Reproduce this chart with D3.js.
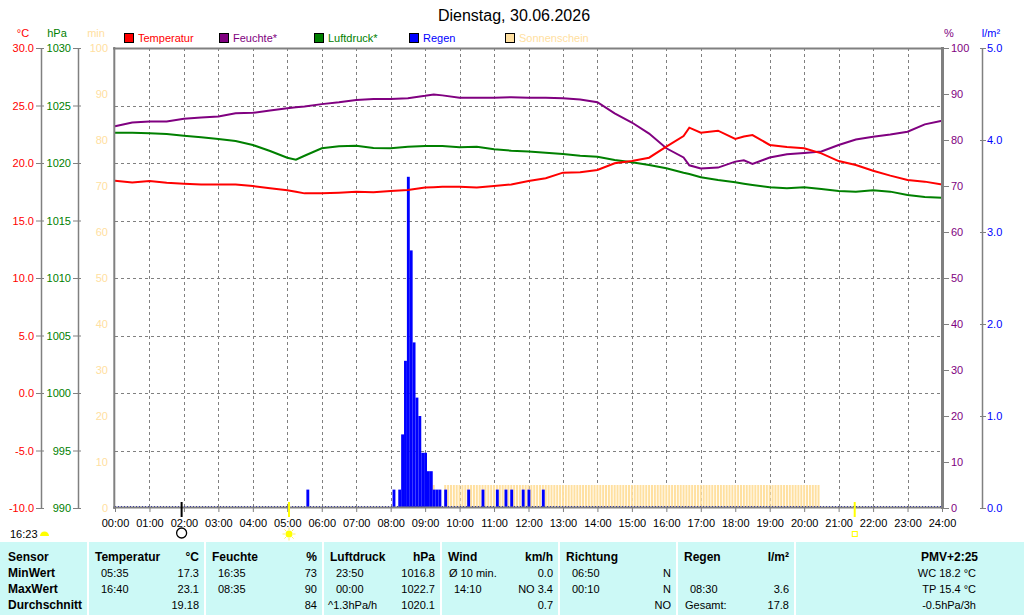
<!DOCTYPE html>
<html>
<head>
<meta charset="utf-8">
<script src="https://d3js.org/d3.v7.min.js"></script>
<style>
    body { margin: 0; background: #fff; }
    svg text { font-family: "Liberation Sans", Arial, sans-serif; }
</style>
</head>
<body>
<script>
// sample times in minutes after midnight
var minutes = [0, 30, 60, 90, 120, 150, 180, 210, 240, 270, 300, 315, 330, 360, 390, 420, 450, 480, 510,
    540, 555, 570, 600, 630, 660, 690, 720, 750, 780, 810, 840, 870, 900, 930, 960, 990, 1000, 1020,
    1050, 1080, 1095, 1110, 1140, 1170, 1200, 1230, 1260, 1290, 1320, 1350, 1380, 1410, 1440];

// temperature in °C
var temperature = [18.46, 18.3, 18.43, 18.29, 18.2, 18.14, 18.14, 18.14, 18.0, 17.8, 17.63, 17.5, 17.36,
    17.36, 17.42, 17.5, 17.45, 17.57, 17.65, 17.86, 17.9, 17.94, 17.94, 17.86, 18.0, 18.14, 18.43, 18.67,
    19.16, 19.2, 19.39, 19.97, 20.17, 20.46, 21.42, 22.35, 23.07, 22.64, 22.81, 22.09, 22.3, 22.43, 21.57,
    21.4, 21.28, 20.84, 20.17, 19.83, 19.33, 18.9, 18.52, 18.38, 18.14];

// relative humidity in %
var humidity = [83.0, 83.8, 84.0, 84.0, 84.6, 84.9, 85.1, 85.8, 85.9, 86.4, 86.9, 87.1, 87.3, 87.8, 88.2,
    88.7, 88.9, 88.9, 89.1, 89.6, 89.9, 89.7, 89.2, 89.2, 89.2, 89.3, 89.2, 89.2, 89.1, 88.8, 88.2, 85.8,
    83.8, 81.4, 78.2, 76.2, 74.5, 73.8, 74.0, 75.3, 75.6, 74.8, 76.2, 76.9, 77.2, 77.5, 78.9, 80.1, 80.7,
    81.2, 81.8, 83.4, 84.2];

// air pressure in hPa
var pressure = [1022.64, 1022.64, 1022.58, 1022.52, 1022.37, 1022.23, 1022.09, 1021.91, 1021.57, 1021.04,
    1020.46, 1020.29, 1020.63, 1021.28, 1021.45, 1021.5, 1021.3, 1021.28, 1021.42, 1021.48, 1021.48,
    1021.48, 1021.36, 1021.42, 1021.19, 1021.07, 1020.99, 1020.9, 1020.78, 1020.64, 1020.55, 1020.26,
    1020.06, 1019.83, 1019.54, 1019.16, 1019.05, 1018.76, 1018.52, 1018.32, 1018.2, 1018.09, 1017.89,
    1017.8, 1017.89, 1017.74, 1017.57, 1017.51, 1017.62, 1017.51, 1017.22, 1017.04, 1016.98];

// rain per 5 minutes in l/m²
var rainTimes = ['05:35', '08:05', '08:15', '08:20', '08:25', '08:30', '08:35', '08:40', '08:45', '08:50',
    '08:55', '09:00', '09:05', '09:10', '09:15', '09:20', '09:25', '09:35', '10:15', '10:40', '11:05',
    '11:20', '11:30', '11:50', '12:00', '12:25'];
var rainValues = [0.2, 0.2, 0.2, 0.8, 1.6, 3.6, 2.8, 1.8, 1.2, 1.0, 0.6, 0.6, 0.4, 0.4, 0.2, 0.2, 0.2,
    0.2, 0.2, 0.2, 0.2, 0.2, 0.2, 0.2, 0.2, 0.2];

// sunshine periods, full 5 minutes of sun per slot
var sunStart = ['09:15', '09:35'];
var sunEnd = ['09:20', '20:30'];
var sunPerSlot = 5;

// sun and moon marks below the time axis
var moonTime = '01:56', sunriseTime = '05:03', sunsetTime = '21:28';

// tick labels
var tempTicks = [30, 25, 20, 15, 10, 5, 0, -5, -10];
var pressTicks = [1030, 1025, 1020, 1015, 1010, 1005, 1000, 995, 990];
var humTicks = [100, 90, 80, 70, 60, 50, 40, 30, 20, 10, 0];
var rainTicks = [5, 4, 3, 2, 1, 0];
var hourLabels = ['00:00', '01:00', '02:00', '03:00', '04:00', '05:00', '06:00', '07:00', '08:00', '09:00',
    '10:00', '11:00', '12:00', '13:00', '14:00', '15:00', '16:00', '17:00', '18:00', '19:00', '20:00',
    '21:00', '22:00', '23:00', '24:00'];

// summary table
var tableHead = [['Sensor', ''], ['Temperatur', '°C'], ['Feuchte', '%'], ['Luftdruck', 'hPa'],
    ['Wind', 'km/h'], ['Richtung', ''], ['Regen', 'l/m²']];
var tableRows = [
    [['MinWert', ''], ['05:35', '17.3'], ['16:35', '73'], ['23:50', '1016.8'], ['Ø 10 min.', '0.0'], ['06:50', 'N'], ['', '']],
    [['MaxWert', ''], ['16:40', '23.1'], ['08:35', '90'], ['00:00', '1022.7'], ['14:10', 'NO 3.4'], ['00:10', 'N'], ['08:30', '3.6']],
    [['Durchschnitt', ''], ['', '19.18'], ['', '84'], ['^1.3hPa/h', '1020.1'], ['', '0.7'], ['', 'NO'], ['Gesamt:', '17.8']]
];
var extraHead = 'PMV+2:25';
var extraRows = ['WC 18.2 °C', 'TP 15.4 °C', '-0.5hPa/3h'];
var dayLength = '16:23';

// init
var width = 1024, height = 615;
var plot = { left: 115, right: 942, top: 48, bottom: 508 };
var colEdges = [0, 88, 205, 323, 441, 559, 677, 795, 1024];

var RED = '#ff0000', PURPLE = '#800080', GREEN = '#008000', BLUE = '#0000ff', SUN = '#ffe0a0', GRID = '#808080';

function toMin(s) {
    var p = s.split(':');
    return +p[0] * 60 + +p[1];
}

var x = d3.scaleLinear().domain([0, 1440]).range([plot.left, plot.right]);
var yT = d3.scaleLinear().domain([-10, 30]).range([plot.bottom, plot.top]);
var yP = d3.scaleLinear().domain([990, 1030]).range([plot.bottom, plot.top]);
var yH = d3.scaleLinear().domain([0, 100]).range([plot.bottom, plot.top]);
var yS = d3.scaleLinear().domain([0, 100]).range([plot.bottom, plot.top]);
var yR = d3.scaleLinear().domain([0, 5]).range([plot.bottom, plot.top]);

var svg = d3.select('body')
    .append('svg')
    .attr('width', width)
    .attr('height', height);

// title
svg.append('text')
    .attr('x', 514).attr('y', 21)
    .attr('text-anchor', 'middle')
    .style('font-size', '16px')
    .text('Dienstag, 30.06.2026');

// axis units
var units = [['°C', 23, RED], ['hPa', 57, GREEN], ['min', 96, SUN], ['%', 949, PURPLE], ['l/m²', 991, BLUE]];
svg.append('g').selectAll('text').data(units).join('text')
    .attr('x', d => d[1]).attr('y', 37)
    .attr('text-anchor', 'middle')
    .attr('fill', d => d[2])
    .style('font-size', '11px')
    .text(d => d[0]);

// legend
var legend = [['Temperatur', RED, 124], ['Feuchte*', PURPLE, 219], ['Luftdruck*', GREEN, 314],
    ['Regen', BLUE, 409], ['Sonnenschein', SUN, 505]];
var lg = svg.append('g').selectAll('g').data(legend).join('g');
lg.append('rect')
    .attr('x', d => d[2] + 0.5).attr('y', 33.5)
    .attr('width', 9).attr('height', 9)
    .attr('fill', d => d[1]).attr('stroke', '#000');
lg.append('text')
    .attr('x', d => d[2] + 14).attr('y', 42)
    .attr('fill', d => d[1])
    .style('font-size', '11px')
    .text(d => d[0]);

// grid
var hours = hourLabels.map(toMin);
svg.append('g')
    .selectAll('line')
    .data(hours.slice(1, -1))
    .join('line')
    .attr('x1', d => Math.round(x(d)) + 0.5).attr('x2', d => Math.round(x(d)) + 0.5)
    .attr('y1', plot.top).attr('y2', plot.bottom)
    .attr('stroke', GRID).attr('stroke-dasharray', '3,3');
svg.append('g')
    .selectAll('line')
    .data(tempTicks.slice(1, -1))
    .join('line')
    .attr('x1', plot.left).attr('x2', plot.right)
    .attr('y1', d => Math.round(yT(d)) + 0.5).attr('y2', d => Math.round(yT(d)) + 0.5)
    .attr('stroke', GRID).attr('stroke-dasharray', '3,3');

// sunshine bars
var sunSlots = [];
sunStart.forEach(function (s, i) {
    d3.range(toMin(s), toMin(sunEnd[i]), 5).forEach(function (m) { sunSlots.push(m); });
});
svg.append('g')
    .selectAll('rect')
    .data(sunSlots)
    .join('rect')
    .attr('x', d => x(d) - 1)
    .attr('width', 2)
    .attr('y', yS(sunPerSlot))
    .attr('height', yS(0) - yS(sunPerSlot) - 1)
    .attr('fill', SUN);

// rain zero line and bars
svg.append('line')
    .attr('x1', plot.left).attr('x2', plot.right)
    .attr('y1', plot.bottom - 1.5).attr('y2', plot.bottom - 1.5)
    .attr('stroke', '#0000c0').attr('stroke-dasharray', '1,2');
svg.append('g')
    .selectAll('rect')
    .data(rainValues)
    .join('rect')
    .attr('x', (d, i) => x(toMin(rainTimes[i])) - 1)
    .attr('width', x(5) - x(0))
    .attr('y', d => yR(d))
    .attr('height', d => yR(0) - yR(d))
    .attr('fill', BLUE);

// lines
function drawLine(values, scale, color) {
    svg.append('path')
        .datum(values)
        .attr('fill', 'none')
        .attr('stroke', color)
        .attr('stroke-width', 2)
        .attr('d', d3.line().x((d, i) => x(minutes[i])).y(d => scale(d)));
}
drawLine(pressure, yP, GREEN);
drawLine(humidity, yH, PURPLE);
drawLine(temperature, yT, RED);

// frame
svg.append('g').attr('stroke', GRID).attr('stroke-width', 2)
    .call(g => g.append('line').attr('x1', 114.3).attr('x2', 114.3).attr('y1', 47).attr('y2', 509))
    .call(g => g.append('line').attr('x1', 113).attr('x2', 944).attr('y1', 48.5).attr('y2', 48.5))
    .call(g => g.append('line').attr('x1', 113).attr('x2', 944).attr('y1', 507.5).attr('y2', 507.5))
    .call(g => g.append('line').attr('x1', 942.5).attr('x2', 942.5).attr('y1', 47).attr('y2', 509).attr('stroke-width', 3));

function styleAxis(g, color) {
    g.selectAll('text').attr('fill', color).style('font-size', '11px');
    g.selectAll('.tick line').attr('stroke', GRID);
    g.select('.domain').attr('stroke', GRID).attr('stroke-width', 1.5);
}

// temperature axis
svg.append('g')
    .attr('transform', 'translate(41,0)')
    .call(d3.axisLeft(yT).tickValues(tempTicks).tickSize(5).tickSizeOuter(0).tickPadding(2)
        .tickFormat(d => d.toFixed(1)))
    .call(g => styleAxis(g, RED))
    .call(g => g.selectAll('.tick line').attr('x1', 3));

// pressure axis
svg.append('g')
    .attr('transform', 'translate(78,0)')
    .call(d3.axisLeft(yP).tickValues(pressTicks).tickSize(5).tickSizeOuter(0).tickPadding(2)
        .tickFormat(d => String(d)))
    .call(g => styleAxis(g, GREEN))
    .call(g => g.selectAll('.tick line').attr('x1', 3));

// sunshine minutes axis
svg.append('g')
    .attr('transform', 'translate(114,0)')
    .call(d3.axisLeft(yS).tickValues(humTicks).tickSize(0).tickPadding(6))
    .call(g => styleAxis(g, SUN))
    .call(g => g.select('.domain').remove());

// humidity axis
svg.append('g')
    .attr('transform', 'translate(944,0)')
    .call(d3.axisRight(yH).tickValues(humTicks).tickSize(5).tickPadding(2))
    .call(g => styleAxis(g, PURPLE))
    .call(g => g.select('.domain').remove());

// rain axis
svg.append('g')
    .attr('transform', 'translate(982,0)')
    .call(d3.axisRight(yR).tickValues(rainTicks).tickSize(4).tickSizeOuter(0).tickPadding(1)
        .tickFormat(d => d.toFixed(1)))
    .call(g => styleAxis(g, BLUE))
    .call(g => g.selectAll('.tick line').attr('x1', -2));

// time axis
svg.append('g')
    .attr('transform', 'translate(0,' + plot.bottom + ')')
    .call(d3.axisBottom(x).tickValues(hours).tickSize(4).tickPadding(7)
        .tickFormat((d, i) => hourLabels[i]))
    .call(g => styleAxis(g, '#000'))
    .call(g => g.select('.domain').remove());

// moon, sunrise, sunset marks
var marks = [[moonTime, '#000'], [sunriseTime, '#ffff00'], [sunsetTime, '#ffff00']];
svg.append('g').selectAll('line').data(marks).join('line')
    .attr('x1', d => x(toMin(d[0]))).attr('x2', d => x(toMin(d[0])))
    .attr('y1', 502).attr('y2', 517)
    .attr('stroke', d => d[1]).attr('stroke-width', 2);

svg.append('circle')
    .attr('cx', x(toMin(moonTime))).attr('cy', 533).attr('r', 5)
    .attr('fill', 'none').attr('stroke', '#000').attr('stroke-width', 1.3);

var sunX = x(toMin(sunriseTime));
svg.append('g')
    .selectAll('line')
    .data(d3.range(8))
    .join('line')
    .attr('x1', d => sunX + Math.cos(d * Math.PI / 4) * 4)
    .attr('y1', d => 534 + Math.sin(d * Math.PI / 4) * 4)
    .attr('x2', d => sunX + Math.cos(d * Math.PI / 4) * 6.5)
    .attr('y2', d => 534 + Math.sin(d * Math.PI / 4) * 6.5)
    .attr('stroke', '#ffee66').attr('stroke-width', 1);
svg.append('circle')
    .attr('cx', sunX).attr('cy', 534).attr('r', 3.5)
    .attr('fill', '#ffff00');

svg.append('rect')
    .attr('x', x(toMin(sunsetTime)) - 2.5).attr('y', 531.5)
    .attr('width', 5).attr('height', 5)
    .attr('fill', 'none').attr('stroke', '#ffff00');

// day length
svg.append('text')
    .attr('x', 10).attr('y', 538)
    .style('font-size', '11px')
    .text(dayLength);
svg.append('path')
    .attr('d', 'M40,536 A4.5,4.5 0 0 1 49,536 Z')
    .attr('fill', '#ffff00');

// summary table
var table = svg.append('g');
table.append('rect')
    .attr('x', 0).attr('y', 542)
    .attr('width', width).attr('height', height - 542)
    .attr('fill', '#ccf9f6');
table.selectAll('line')
    .data(colEdges.slice(1, -1))
    .join('line')
    .attr('x1', d => d).attr('x2', d => d)
    .attr('y1', 542).attr('y2', height)
    .attr('stroke', '#fff').attr('stroke-width', 2);

var rowY = [561, 577, 593, 609];

function cellText(txt, xPos, yPos, anchor, bold) {
    table.append('text')
        .attr('x', xPos).attr('y', yPos)
        .attr('text-anchor', anchor)
        .style('font-size', bold ? '12px' : '11px')
        .style('font-weight', bold ? 'bold' : 'normal')
        .text(txt);
}

tableHead.forEach(function (h, c) {
    cellText(h[0], colEdges[c] + (c === 0 ? 8 : 7), rowY[0], 'start', true);
    cellText(h[1], colEdges[c + 1] - 6, rowY[0], 'end', true);
});
tableRows.forEach(function (row, r) {
    row.forEach(function (cell, c) {
        var indent = c === 0 ? 8 : (/^\d\d:\d\d$/.test(cell[0]) ? 13 : (cell[0][0] === '^' ? 5 : 8));
        cellText(cell[0], colEdges[c] + indent, rowY[r + 1], 'start', c === 0);
        cellText(cell[1], colEdges[c + 1] - 6, rowY[r + 1], 'end', false);
    });
});
cellText(extraHead, 978, rowY[0], 'end', true);
extraRows.forEach(function (t, r) {
    cellText(t, 976, rowY[r + 1], 'end', false);
});
</script>
</body>
</html>
